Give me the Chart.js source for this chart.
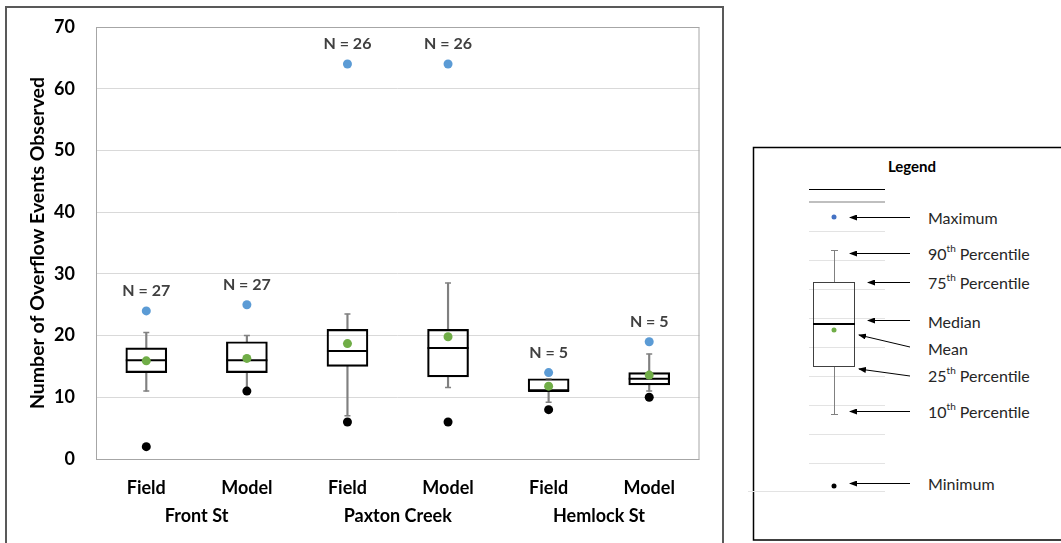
<!DOCTYPE html>
<html>
<head>
<meta charset="utf-8">
<script src="https://cdn.jsdelivr.net/npm/chart.js@4/dist/chart.umd.min.js"></script>
<style>
  body { margin: 0; background: #fff; width: 1061px; height: 543px; overflow: hidden; position: relative; }
  #frame { position: absolute; left: 5px; top: 6px; width: 715px; height: 560px; border: 2px solid #595959; border-bottom: none; }
  #wrap { position: absolute; left: 0; top: 0; width: 722px; height: 543px; }
  #legend { position: absolute; left: 0; top: 0; }
</style>
</head>
<body>
<div id="frame"></div>
<div id="wrap"><canvas id="boxChart"></canvas></div>
<svg id="legend" width="1061" height="543" font-family="Lato, sans-serif">
  <defs>
    <marker id="arr" markerWidth="8" markerHeight="6" refX="7" refY="3" orient="auto" markerUnits="userSpaceOnUse">
      <path d="M0,0 L8,3 L0,6 z" fill="#000"/>
    </marker>
  </defs>
  <rect x="753.5" y="147.5" width="330" height="392.5" fill="#fff" stroke="#000" stroke-width="1.5"/>
  <text x="912" y="166" font-size="15" font-weight="bold" text-anchor="middle" dominant-baseline="central" fill="#000">Legend</text>
  <line x1="809" y1="189.5" x2="885" y2="189.5" stroke="#000" stroke-width="1"/>
  <line x1="809" y1="202" x2="885" y2="202" stroke="#bfbfbf" stroke-width="2"/>
  <g stroke="#e3e3e3" stroke-width="1">
    <line x1="809" y1="231.5" x2="885" y2="231.5"/>
    <line x1="809" y1="260.5" x2="885" y2="260.5"/>
    <line x1="809" y1="289.5" x2="885" y2="289.5"/>
    <line x1="809" y1="318.5" x2="885" y2="318.5"/>
    <line x1="809" y1="347.5" x2="885" y2="347.5"/>
    <line x1="809" y1="376.5" x2="885" y2="376.5"/>
    <line x1="809" y1="405.5" x2="885" y2="405.5"/>
    <line x1="809" y1="434.5" x2="885" y2="434.5"/>
    <line x1="809" y1="463.5" x2="885" y2="463.5"/>
    <line x1="748" y1="491.5" x2="885" y2="491.5"/>
  </g>
  <circle cx="834" cy="217" r="2.5" fill="#4472c4"/>
  <g stroke="#808080" stroke-width="1">
    <line x1="834.5" y1="250" x2="834.5" y2="282"/>
    <line x1="831" y1="250.5" x2="838" y2="250.5"/>
    <line x1="834.5" y1="367" x2="834.5" y2="414"/>
    <line x1="831" y1="414.5" x2="838" y2="414.5"/>
  </g>
  <rect x="813.5" y="282.5" width="41" height="84" fill="none" stroke="#404040" stroke-width="1"/>
  <line x1="813" y1="324" x2="855" y2="324" stroke="#000" stroke-width="2"/>
  <circle cx="834" cy="330" r="2.5" fill="#70ad47"/>
  <circle cx="834" cy="486" r="2.5" fill="#000"/>
  <g stroke="#000" stroke-width="1" marker-end="url(#arr)">
    <line x1="910" y1="217.5" x2="850" y2="217.5"/>
    <line x1="910" y1="253.5" x2="850" y2="253.5"/>
    <line x1="910" y1="282.5" x2="868" y2="282.5"/>
    <line x1="910" y1="320.5" x2="868" y2="320.5"/>
    <line x1="910" y1="347" x2="859" y2="335"/>
    <line x1="910" y1="376" x2="859" y2="369"/>
    <line x1="910" y1="411.5" x2="850" y2="411.5"/>
    <line x1="910" y1="483.5" x2="850" y2="483.5"/>
  </g>
  <g font-size="16" fill="#262626" dominant-baseline="central">
    <text x="928" y="217">Maximum</text>
    <text x="928" y="253">90<tspan font-size="10" dy="-5">th</tspan><tspan dy="5"> Percentile</tspan></text>
    <text x="928" y="282">75<tspan font-size="10" dy="-5">th</tspan><tspan dy="5"> Percentile</tspan></text>
    <text x="928" y="321">Median</text>
    <text x="928" y="348">Mean</text>
    <text x="928" y="375">25<tspan font-size="10" dy="-5">th</tspan><tspan dy="5"> Percentile</tspan></text>
    <text x="928" y="411">10<tspan font-size="10" dy="-5">th</tspan><tspan dy="5"> Percentile</tspan></text>
    <text x="928" y="483">Minimum</text>
  </g>
</svg>
<script>
// categories and groups
const categories = ['Field', 'Model', 'Field', 'Model', 'Field', 'Model'];
const groups = ['Front St', 'Paxton Creek', 'Hemlock St'];
const yTicks = [0, 10, 20, 30, 40, 50, 60, 70];

// box plot statistics
const sampleSizes = [27, 27, 26, 26, 5, 5];
const maxima = [24, 25, 64, 64, 14, 19];
const p90 = [20.5, 20, 23.5, 28.5, 13, 17];
const q3 = [18, 19, 21, 21, 13, 14];
const medians = [16, 16, 17.5, 18, 11, 13];
const means = [15.9, 16.3, 18.7, 19.8, 11.8, 13.6];
const q1 = [14, 14, 15, 13.3, 11, 12];
const p10 = [11, 11, 7, 11.6, 9.2, 11];
const minima = [2, 11, 6, 6, 8, 10];

const FONT = 'Lato, "Open Sans", sans-serif';

// plot border + "N = .." labels above the maximum points
const extras = {
    id: 'extras',
    afterDatasetsDraw(chart) {
        const ctx = chart.ctx;
        const a = chart.chartArea;
        ctx.save();
        ctx.strokeStyle = '#a6a6a6';
        ctx.lineWidth = 1;
        ctx.strokeRect(a.left + 0.5, a.top + 0.5, a.right - a.left - 1, a.bottom - a.top);

        const meta = chart.getDatasetMeta(chart.data.datasets.findIndex(d => d.label === 'Maximum'));
        ctx.fillStyle = '#404040';
        ctx.font = 'bold 16px ' + FONT;
        ctx.textAlign = 'center';
        ctx.textBaseline = 'middle';
        meta.data.forEach((pt, i) => {
            ctx.fillText('N = ' + sampleSizes[i], pt.x, pt.y - 20);
        });
        ctx.restore();
    }
};

const ctx = document.getElementById('boxChart').getContext('2d');
const chart = new Chart(ctx, {
    type: 'bar',
    data: {
        labels: categories,
        datasets: [{
            label: 'Upper whisker',
            data: q3.map((v, i) => [v, p90[i]]),
            backgroundColor: '#808080',
            barThickness: 1.5,
            grouped: false,
            order: 6
        }, {
            label: 'Lower whisker',
            data: p10.map((v, i) => [v, q1[i]]),
            backgroundColor: '#808080',
            barThickness: 1.5,
            grouped: false,
            order: 6
        }, {
            label: 'Box',
            data: q1.map((v, i) => [v, q3[i]]),
            backgroundColor: 'rgba(255,255,255,0)',
            borderColor: '#000',
            borderWidth: 1.5,
            borderSkipped: false,
            barThickness: 41,
            grouped: false,
            order: 5
        }, {
            type: 'line',
            label: '90th cap',
            data: p90,
            showLine: false,
            pointStyle: 'line',
            pointRadius: 3,
            pointBorderWidth: 1.5,
            pointBorderColor: '#808080',
            order: 4
        }, {
            type: 'line',
            label: '10th cap',
            data: p10,
            showLine: false,
            pointStyle: 'line',
            pointRadius: 3,
            pointBorderWidth: 1.5,
            pointBorderColor: '#808080',
            order: 4
        }, {
            type: 'line',
            label: 'Median',
            data: medians,
            showLine: false,
            pointStyle: 'line',
            pointRadius: 20.5,
            pointBorderWidth: 2,
            pointBorderColor: '#000',
            order: 3
        }, {
            type: 'line',
            label: 'Minimum',
            data: minima,
            showLine: false,
            pointRadius: 4.5,
            pointBorderWidth: 0,
            pointBackgroundColor: '#000',
            order: 2
        }, {
            type: 'line',
            label: 'Mean',
            data: means,
            showLine: false,
            pointRadius: 4.5,
            pointBorderWidth: 0,
            pointBackgroundColor: '#70ad47',
            order: 1
        }, {
            type: 'line',
            label: 'Maximum',
            data: maxima,
            showLine: false,
            pointRadius: 4.5,
            pointBorderWidth: 0,
            pointBackgroundColor: '#5b9bd5',
            order: 1
        }]
    },
    options: {
        responsive: true,
        maintainAspectRatio: false,
        animation: false,
        events: [],
        layout: { padding: { top: 27, right: 16, left: 0, bottom: 0 } },
        plugins: {
            legend: { display: false },
            tooltip: { enabled: false }
        },
        scales: {
            x: {
                offset: true,
                grid: { display: false },
                border: { display: false },
                ticks: { color: '#000', font: { family: FONT, size: 18, weight: 'bold' }, padding: 10, maxRotation: 0 },
                afterFit: s => { s.height = 38; }
            },
            x2: {
                type: 'category',
                labels: groups,
                position: 'bottom',
                offset: true,
                grid: { display: false },
                border: { display: false },
                ticks: { color: '#000', font: { family: FONT, size: 18, weight: 'bold' }, padding: 0, maxRotation: 0 },
                afterFit: s => { s.height = 46; }
            },
            y: {
                min: 0,
                max: 70,
                afterBuildTicks: s => { s.ticks = yTicks.map(v => ({ value: v })); },
                // transparent tick marks keep labels off the plot without padding the top
                grid: { color: '#d9d9d9', drawTicks: true, tickLength: 21, tickColor: 'rgba(0,0,0,0)' },
                border: { display: false },
                ticks: { color: '#000', font: { family: FONT, size: 18, weight: 'bold' }, padding: 0 },
                title: {
                    display: true,
                    text: 'Number of Overflow Events Observed',
                    color: '#000',
                    font: { family: FONT, size: 19.5, weight: 'bold' },
                    padding: { top: 26, bottom: 0 }
                },
                afterFit: s => { s.width = 96; }
            }
        }
    },
    plugins: [extras]
});
</script>
</body>
</html>
